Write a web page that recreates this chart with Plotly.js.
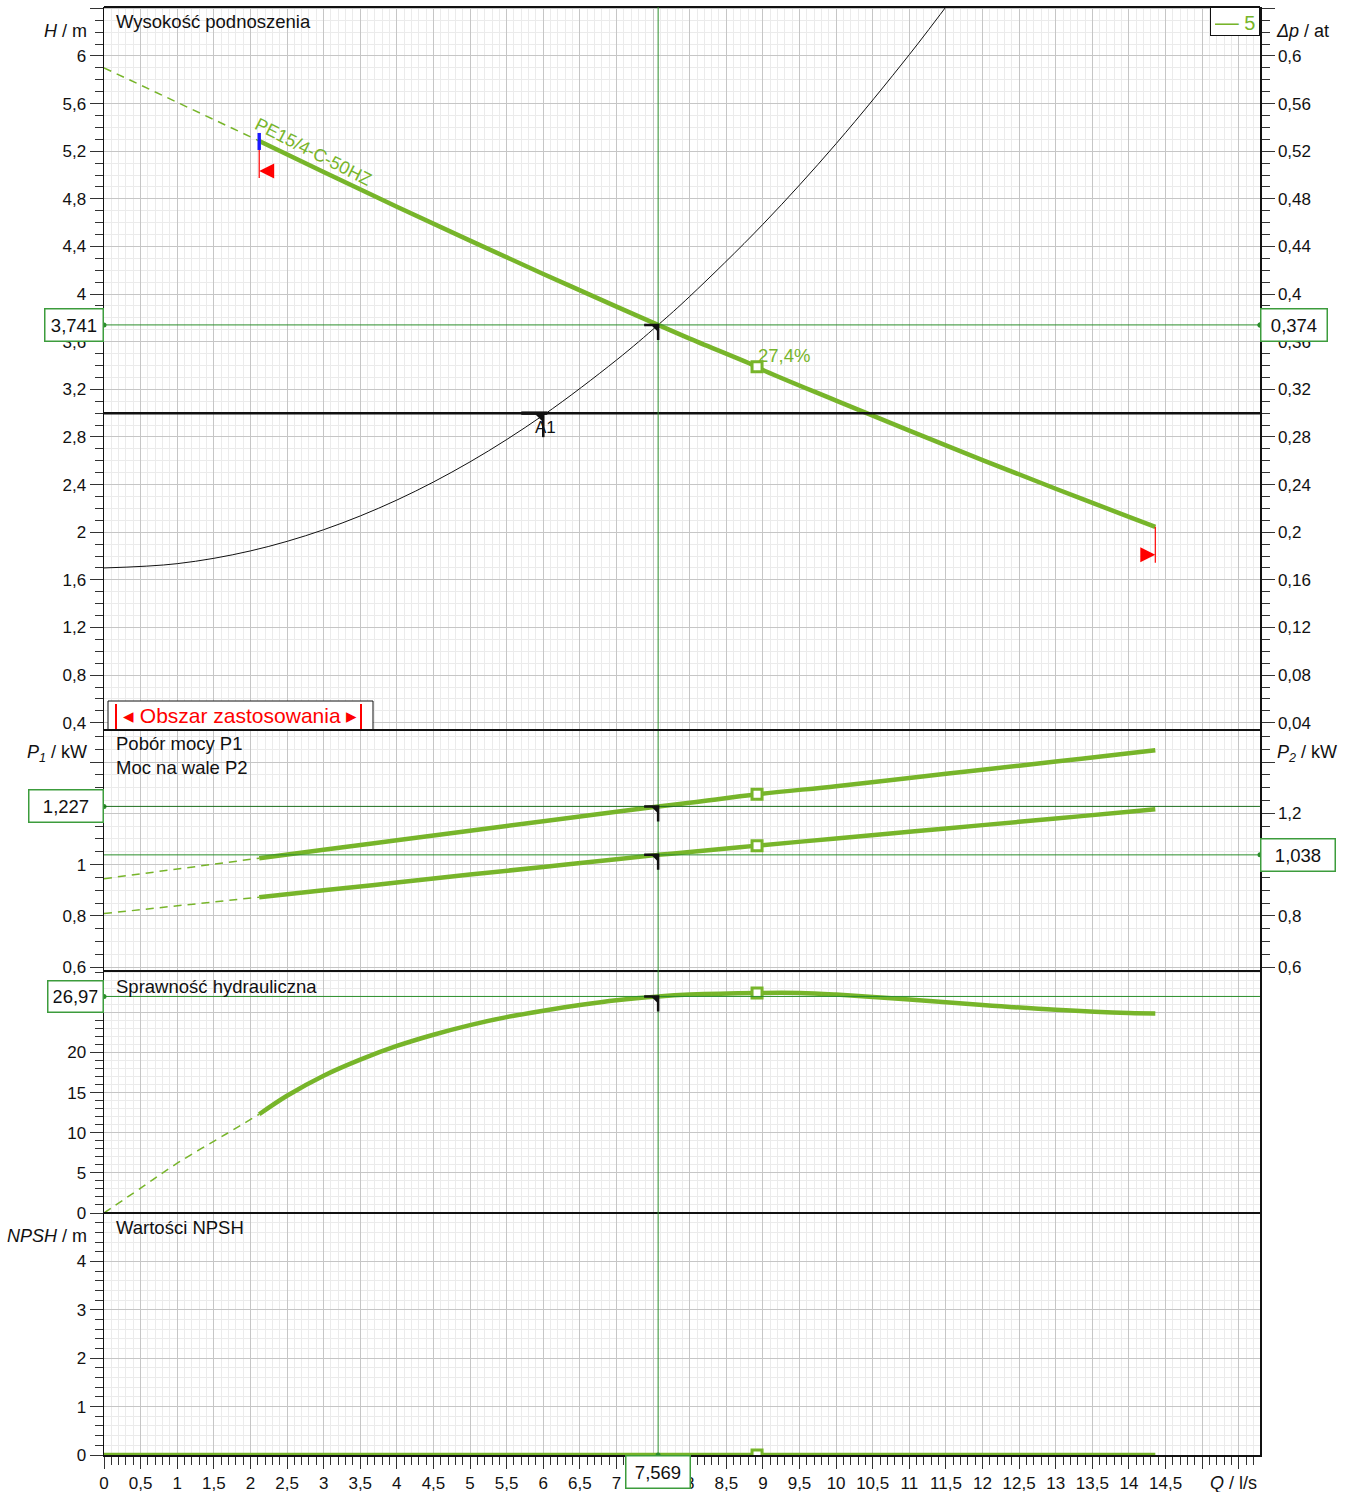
<!DOCTYPE html>
<html><head><meta charset="utf-8">
<script src="https://cdn.plot.ly/plotly-3.0.1.min.js"></script>
<style>html,body{margin:0;padding:0;background:#fff}#chart{width:1347px;height:1492px}</style>
</head><body><div id="chart"></div>
<script>
// ---------------- data ----------------
const Q_pump   = [2.12, 3, 4, 5, 6, 7, 7.569, 8, 8.92, 9, 10, 11, 12, 13, 14, 14.36];
const H_pump   = [5.286, 5.025, 4.734, 4.449, 4.169, 3.895, 3.741, 3.626, 3.39, 3.363, 3.105, 2.853, 2.606, 2.365, 2.129, 2.045];
const Q_pump_ext = [0, 2.12];
const H_pump_ext = [5.90, 5.286];

const Q_sys = [0, 1, 2, 3, 4, 5, 6, 7, 7.569, 8, 9, 10, 11, 11.6];
const H_sys = [1.70, 1.736, 1.843, 2.021, 2.270, 2.591, 2.983, 3.446, 3.741, 3.980, 4.586, 5.263, 6.011, 6.494];

const Q_pow  = [2.12, 3, 4, 5, 6, 7, 7.569, 8, 8.92, 10, 11, 12, 13, 14, 14.36];
const P1_val = [1.025, 1.058, 1.095, 1.132, 1.169, 1.206, 1.227, 1.241, 1.274, 1.306, 1.338, 1.370, 1.402, 1.434, 1.446];
const P2_val = [0.873, 0.900, 0.930, 0.961, 0.991, 1.021, 1.038, 1.049, 1.074, 1.102, 1.128, 1.154, 1.180, 1.206, 1.216];
const Q_pow_ext  = [0, 2.12];
const P1_ext = [0.945, 1.025];
const P2_ext = [0.809, 0.873];

const Q_eta   = [2.12, 2.5, 3, 3.5, 4, 4.5, 5, 5.5, 6, 6.5, 7, 7.569, 8, 8.92, 9.5, 10, 11, 12, 13, 14, 14.36];
const eta_val = [12.3, 14.6, 17.1, 19.1, 20.8, 22.2, 23.4, 24.4, 25.2, 25.9, 26.5, 26.97, 27.2, 27.4, 27.4, 27.2, 26.6, 25.9, 25.3, 24.9, 24.85];
const Q_eta_ext   = [0, 0.5, 1, 1.68, 2.12];
const eta_ext     = [0, 3.1, 6.2, 9.9, 12.3];

const Q_npsh = [0, 14.36];
const npsh_val = [0, 0];

// operating point, best efficiency point, requested point
const opQ = 7.569, opH = 3.741, opDp = 0.374, opP1 = 1.227, opP2 = 1.038, opEta = 26.97;
const bestQ = 8.92, bestH = 3.39, bestP1 = 1.274, bestP2 = 1.074, bestEta = 27.4, bestNpsh = 0;
const reqQ = 6.0, reqH = 3.0;
const pumpName = 'PE15/4-C-50HZ';
const curveNo = '5';

// tick labels (labels fully hidden under value boxes are left blank)
const xTickVals = [0,0.5,1,1.5,2,2.5,3,3.5,4,4.5,5,5.5,6,6.5,7,7.5,8,8.5,9,9.5,10,10.5,11,11.5,12,12.5,13,13.5,14,14.5,15,15.5];
const xTickText = ['0','0,5','1','1,5','2','2,5','3','3,5','4','4,5','5','5,5','6','6,5','7',' ','8','8,5','9','9,5','10','10,5','11','11,5','12','12,5','13','13,5','14','14,5',' ',' '];
const pTickVals = [0.6, 0.8, 1, 1.2, 1.4];
const p1TickText = ['0,6', '0,8', '1', ' ', ' '];
const p2TickText = ['0,6', '0,8', ' ', '1,2', ' '];
const etaTickVals = [0, 5, 10, 15, 20, 25];
const etaTickText = ['0', '5', '10', '15', '20', ' '];
const npshTickVals = [0, 1, 2, 3, 4];
const npshTickText = ['0', '1', '2', '3', '4'];

// ---------------- layout helpers ----------------
const L = 104, R = 1260, T = 7, B = 1455;
const px = x => (x - L) / (R - L);
const py = y => (B - y) / (B - T);
const xMax = 15.79;
const fmt = (v, d) => v.toFixed(d).replace('.', ',');

const GREEN = '#77b52a';
const OPG = '#2b8f2b';
const FONT = 'Liberation Sans, Arial, sans-serif';
const tf = {family: FONT, size: 17, color: '#111'};
const tf18 = {family: FONT, size: 18.5, color: '#111'};

const common = {
  ticks: 'outside', tickcolor: '#333', tickwidth: 1, ticklen: 13,
  showline: true, linecolor: '#111', linewidth: 1.5,
  zeroline: false, tickfont: tf, gridcolor: '#c6c6c6', gridwidth: 1
};

const traces = [
  // H panel
  {x: Q_pump_ext, y: H_pump_ext, yaxis: 'y', mode: 'lines', line: {color: GREEN, width: 1.5, dash: '8px,6px'}},
  {x: Q_sys, y: H_sys, yaxis: 'y', mode: 'lines', line: {color: '#111', width: 1, shape: 'spline'}},
  {x: Q_pump, y: H_pump, yaxis: 'y', mode: 'lines', line: {color: GREEN, width: 4.5, shape: 'spline'}},
  {x: [bestQ], y: [bestH], yaxis: 'y', mode: 'markers', marker: {symbol: 'square', size: 10, color: '#fff', line: {color: GREEN, width: 3}}},
  {x: [0, xMax], y: [opH, opH], yaxis: 'y', mode: 'markers', cliponaxis: false, marker: {size: 5, color: OPG}},
  {x: [xMax], y: [opDp], yaxis: 'y2', mode: 'markers', cliponaxis: false, marker: {size: 5, color: OPG}},
  // power panel
  {x: Q_pow_ext, y: P1_ext, yaxis: 'y3', mode: 'lines', line: {color: GREEN, width: 1.5, dash: '8px,6px'}},
  {x: Q_pow_ext, y: P2_ext, yaxis: 'y3', mode: 'lines', line: {color: GREEN, width: 1.5, dash: '8px,6px'}},
  {x: Q_pow, y: P1_val, yaxis: 'y3', mode: 'lines', line: {color: GREEN, width: 4.5, shape: 'spline'}},
  {x: Q_pow, y: P2_val, yaxis: 'y3', mode: 'lines', line: {color: GREEN, width: 4.5, shape: 'spline'}},
  {x: [bestQ, bestQ], y: [bestP1, bestP2], yaxis: 'y3', mode: 'markers', marker: {symbol: 'square', size: 10, color: '#fff', line: {color: GREEN, width: 3}}},
  {x: [0], y: [opP1], yaxis: 'y3', mode: 'markers', cliponaxis: false, marker: {size: 5, color: OPG}},
  {x: [xMax], y: [opP2], yaxis: 'y4', mode: 'markers', cliponaxis: false, marker: {size: 5, color: OPG}},
  // efficiency panel
  {x: Q_eta_ext, y: eta_ext, yaxis: 'y5', mode: 'lines', line: {color: GREEN, width: 1.5, dash: '8px,6px', shape: 'spline'}},
  {x: Q_eta, y: eta_val, yaxis: 'y5', mode: 'lines', line: {color: GREEN, width: 4.5, shape: 'spline'}},
  {x: [bestQ], y: [bestEta], yaxis: 'y5', mode: 'markers', marker: {symbol: 'square', size: 10, color: '#fff', line: {color: GREEN, width: 3}}},
  {x: [0], y: [opEta], yaxis: 'y5', mode: 'markers', cliponaxis: false, marker: {size: 5, color: OPG}},
  // NPSH panel
  {x: Q_npsh, y: npsh_val, yaxis: 'y6', mode: 'lines', line: {color: GREEN, width: 4.5}},
  {x: [bestQ], y: [bestNpsh], yaxis: 'y6', mode: 'markers', marker: {symbol: 'square', size: 10, color: '#fff', line: {color: GREEN, width: 3}}},
  {x: [opQ], y: [0], yaxis: 'y6', mode: 'markers', cliponaxis: false, marker: {size: 5, color: OPG}}
];

function corner(xa, ya, yv) {
  return {type: 'path', xref: 'x', yref: ya, xsizemode: 'pixel', ysizemode: 'pixel',
    xanchor: xa, yanchor: yv, path: 'M -14,0 L 0,0 L 0,-15', line: {color: '#111', width: 2.5}};
}
function cornerFill(xa, ya, yv) {
  return {type: 'path', xref: 'x', yref: ya, xsizemode: 'pixel', ysizemode: 'pixel',
    xanchor: xa, yanchor: yv, path: 'M -7,0 L 0,0 L 0,-7 Z', fillcolor: '#111', line: {width: 0}};
}
function hsep(ypx) {
  return {type: 'line', xref: 'paper', yref: 'paper', x0: 0, x1: 1, y0: py(ypx), y1: py(ypx), line: {color: '#111', width: 2}};
}

const shapes = [
  // panel separators and top frame
  hsep(T), hsep(730), hsep(971), hsep(1213),
  // requested head line
  {type: 'line', xref: 'paper', x0: 0, x1: 1, yref: 'y', y0: reqH, y1: reqH, line: {color: '#111', width: 2.5}},
  // operating lines
  {type: 'line', xref: 'x', x0: opQ, x1: opQ, yref: 'paper', y0: 0, y1: 1, line: {color: OPG, width: 1}},
  {type: 'line', xref: 'paper', x0: 0, x1: 1, yref: 'y', y0: opH, y1: opH, line: {color: OPG, width: 1}},
  {type: 'line', xref: 'paper', x0: 0, x1: 1, yref: 'y3', y0: opP1, y1: opP1, line: {color: '#1e6e1e', width: 1}},
  {type: 'line', xref: 'paper', x0: 0, x1: 1, yref: 'y3', y0: opP2, y1: opP2, line: {color: OPG, width: 1}},
  {type: 'line', xref: 'paper', x0: 0, x1: 1, yref: 'y5', y0: opEta, y1: opEta, line: {color: OPG, width: 1}},
  // operating point symbols
  corner(opQ, 'y', opH), cornerFill(opQ, 'y', opH),
  corner(opQ, 'y3', opP1), cornerFill(opQ, 'y3', opP1),
  corner(opQ, 'y3', opP2), cornerFill(opQ, 'y3', opP2),
  corner(opQ, 'y5', opEta), cornerFill(opQ, 'y5', opEta),
  // requested point A1 symbol
  {type: 'path', xref: 'x', yref: 'y', xsizemode: 'pixel', ysizemode: 'pixel', xanchor: reqQ, yanchor: reqH,
    path: 'M -22,0 L 4,0', line: {color: '#111', width: 3.5}},
  {type: 'path', xref: 'x', yref: 'y', xsizemode: 'pixel', ysizemode: 'pixel', xanchor: reqQ, yanchor: reqH,
    path: 'M 0,0 L 0,-24', line: {color: '#111', width: 2.5}},
  {type: 'path', xref: 'x', yref: 'y', xsizemode: 'pixel', ysizemode: 'pixel', xanchor: reqQ, yanchor: reqH,
    path: 'M -9,0 L 0,0 L 0,-9 Z', fillcolor: '#111', line: {width: 0}},
  // start marker: blue bar, red line, red triangle
  {type: 'path', xref: 'x', yref: 'y', xsizemode: 'pixel', ysizemode: 'pixel', xanchor: Q_pump[0], yanchor: H_pump[0],
    path: 'M 0,0 L 0,-37', line: {color: '#ff0000', width: 1.2}},
  {type: 'path', xref: 'x', yref: 'y', xsizemode: 'pixel', ysizemode: 'pixel', xanchor: Q_pump[0], yanchor: H_pump[0],
    path: 'M 0,-30 L 15,-22.5 L 15,-37.5 Z', fillcolor: '#ff0000', line: {width: 0}},
  {type: 'rect', xref: 'x', yref: 'y', xsizemode: 'pixel', ysizemode: 'pixel', xanchor: Q_pump[0], yanchor: H_pump[0],
    x0: -1.7, x1: 1.7, y0: -9, y1: 8, fillcolor: '#1a1aff', line: {width: 0}},
  // end marker
  {type: 'path', xref: 'x', yref: 'y', xsizemode: 'pixel', ysizemode: 'pixel', xanchor: Q_pump[Q_pump.length-1], yanchor: H_pump[H_pump.length-1],
    path: 'M 0,0 L 0,-36', line: {color: '#ff0000', width: 1.2}},
  {type: 'path', xref: 'x', yref: 'y', xsizemode: 'pixel', ysizemode: 'pixel', xanchor: Q_pump[Q_pump.length-1], yanchor: H_pump[H_pump.length-1],
    path: 'M 0,-28 L -15,-20.5 L -15,-35.5 Z', fillcolor: '#ff0000', line: {width: 0}},
  // Obszar zastosowania box and red bars
  {type: 'rect', xref: 'paper', yref: 'paper', x0: px(108), x1: px(373), y0: py(730), y1: py(701), fillcolor: '#fff', line: {color: '#111', width: 1}},
  {type: 'line', xref: 'paper', yref: 'paper', x0: px(116), x1: px(116), y0: py(704), y1: py(730), line: {color: '#ff0000', width: 2}},
  {type: 'line', xref: 'paper', yref: 'paper', x0: px(361), x1: px(361), y0: py(704), y1: py(730), line: {color: '#ff0000', width: 2}},
  hsep(730)
];

const ann = [];
function a(o) { ann.push(Object.assign({showarrow: false, font: tf}, o)); }
// panel titles
a({xref: 'paper', yref: 'paper', x: px(114), y: py(21), xanchor: 'left', yanchor: 'middle', text: 'Wysokość podnoszenia', font: tf18});
a({xref: 'paper', yref: 'paper', x: px(114), y: py(755.5), xanchor: 'left', yanchor: 'middle', align: 'left', text: 'Pobór mocy P1<br>Moc na wale P2', font: tf18});
a({xref: 'paper', yref: 'paper', x: px(114), y: py(986), xanchor: 'left', yanchor: 'middle', text: 'Sprawność hydrauliczna', font: tf18});
a({xref: 'paper', yref: 'paper', x: px(114), y: py(1227), xanchor: 'left', yanchor: 'middle', text: 'Wartości NPSH', font: tf18});
// axis titles
const tfa = {family: FONT, size: 18, color: '#111'};
a({xref: 'paper', yref: 'paper', x: px(89), y: py(31), xanchor: 'right', yanchor: 'middle', text: '<i>H</i> / m', font: tfa});
a({xref: 'paper', yref: 'paper', x: px(1274), y: py(31), xanchor: 'left', yanchor: 'middle', text: '<i>Δp</i> / at', font: tfa});
a({xref: 'paper', yref: 'paper', x: px(89), y: py(753), xanchor: 'right', yanchor: 'middle', text: '<i>P<sub>1</sub></i> / kW', font: tfa});
a({xref: 'paper', yref: 'paper', x: px(1275), y: py(753), xanchor: 'left', yanchor: 'middle', text: '<i>P<sub>2</sub></i> / kW', font: tfa});
a({xref: 'paper', yref: 'paper', x: px(89), y: py(1236), xanchor: 'right', yanchor: 'middle', text: '<i>NPSH</i> / m', font: tfa});
a({xref: 'paper', yref: 'paper', x: px(1259), y: py(1483), xanchor: 'right', yanchor: 'middle', text: '<i>Q</i> / l/s', font: tfa});
// value boxes
const box = {bgcolor: '#fff', bordercolor: '#3c9c3c', borderwidth: 1.5, borderpad: 5, font: tf18};
a(Object.assign({xref: 'paper', x: 0, xanchor: 'right', yref: 'y', y: opH, yanchor: 'middle', text: fmt(opH, 3), width: 47, height: 21}, box));
a(Object.assign({xref: 'paper', x: 1, xanchor: 'left', yref: 'y2', y: opDp, yanchor: 'middle', text: fmt(opDp, 3), width: 55, height: 21}, box));
a(Object.assign({xref: 'paper', x: 0, xanchor: 'right', yref: 'y3', y: opP1, yanchor: 'middle', text: fmt(opP1, 3), width: 63, height: 21}, box));
a(Object.assign({xref: 'paper', x: 1, xanchor: 'left', yref: 'y4', y: opP2, yanchor: 'middle', text: fmt(opP2, 3), width: 63, height: 21}, box));
a(Object.assign({xref: 'paper', x: 0, xanchor: 'right', yref: 'y5', y: opEta, yanchor: 'middle', text: fmt(opEta, 2), width: 44, height: 20}, box));
a(Object.assign({xref: 'x', x: opQ, xanchor: 'center', yref: 'paper', y: 0, yanchor: 'top', text: fmt(opQ, 3), width: 53, height: 21}, box));
// curve labels
a({xref: 'x', yref: 'y', x: 2.86, y: 5.19, textangle: 27, text: pumpName, font: {family: FONT, size: 18, color: GREEN}});
a({xref: 'x', yref: 'y', x: bestQ, y: bestH, xanchor: 'left', yanchor: 'middle', yshift: 11, xshift: -1, text: fmt(bestEta, 1) + '%', font: {family: FONT, size: 18.5, color: GREEN}});
a({xref: 'x', yref: 'y', x: reqQ, y: reqH, xanchor: 'center', yanchor: 'middle', yshift: -14, xshift: 2, text: 'A1', font: {family: FONT, size: 17, color: '#111'}});
// legend box
a({xref: 'paper', yref: 'paper', x: 1, y: 1, xanchor: 'right', yanchor: 'top', text: '<span style="font-size:24px">—</span> ' + curveNo, width: 40, height: 19, borderpad: 4, borderwidth: 1, bordercolor: '#111', bgcolor: '#fff', font: {family: FONT, size: 20, color: GREEN}});
// application range text
a({xref: 'paper', yref: 'paper', x: px(240), y: py(716), xanchor: 'center', yanchor: 'middle', text: '◂ Obszar zastosowania ▸', font: {family: FONT, size: 21, color: '#ff0000'}});

const minorY = (d, grid) => ({dtick: d, tick0: 0, ticks: 'outside', ticklen: 8, tickcolor: '#333', showgrid: grid, gridcolor: '#ebebeb'});

const layout = {
  width: 1347, height: 1492,
  margin: {l: L, r: 1347 - R, t: T, b: 1492 - B},
  paper_bgcolor: '#fff', plot_bgcolor: '#fff',
  showlegend: false, separators: ', ',
  font: {family: FONT, size: 17, color: '#111'},
  xaxis: Object.assign({}, common, {anchor: 'y6', range: [0, xMax], tickmode: 'array', tickvals: xTickVals, ticktext: xTickText,
    ticklen: 12, mirror: false, minor: minorY(0.1, true)}),
  yaxis: Object.assign({}, common, {domain: [py(730), 1], range: [0.339, 6.411], tickmode: 'linear', tick0: 0, dtick: 0.4, mirror: true,
    showgrid: true, minor: minorY(0.1, true)}),
  yaxis2: Object.assign({}, common, {overlaying: 'y', side: 'right', anchor: 'x', range: [0.0339, 0.6411], tickmode: 'linear', tick0: 0, dtick: 0.04,
    showgrid: false, minor: minorY(0.01, false)}),
  yaxis3: Object.assign({}, common, {domain: [py(971), py(730)], anchor: 'x', range: [0.585, 1.525], tickmode: 'array', tickvals: pTickVals, ticktext: p1TickText, mirror: true,
    showgrid: true, minor: minorY(0.05, true)}),
  yaxis4: Object.assign({}, common, {overlaying: 'y3', side: 'right', anchor: 'x', range: [0.585, 1.525], tickmode: 'array', tickvals: pTickVals, ticktext: p2TickText,
    showgrid: false, minor: minorY(0.05, false)}),
  yaxis5: Object.assign({}, common, {domain: [py(1213), py(971)], anchor: 'x', range: [0, 30.14], tickmode: 'array', tickvals: etaTickVals, ticktext: etaTickText, mirror: true,
    showgrid: true, minor: minorY(1, true)}),
  yaxis6: Object.assign({}, common, {domain: [0, py(1213)], anchor: 'x', range: [0, 5], tickmode: 'array', tickvals: npshTickVals, ticktext: npshTickText, mirror: true,
    showgrid: true, minor: minorY(0.2, true)}),
  shapes: shapes,
  annotations: ann
};

Plotly.newPlot('chart', traces.map(t => Object.assign({hoverinfo: 'skip', showlegend: false}, t)), layout, {staticPlot: true, displayModeBar: false});
</script>
</body></html>
